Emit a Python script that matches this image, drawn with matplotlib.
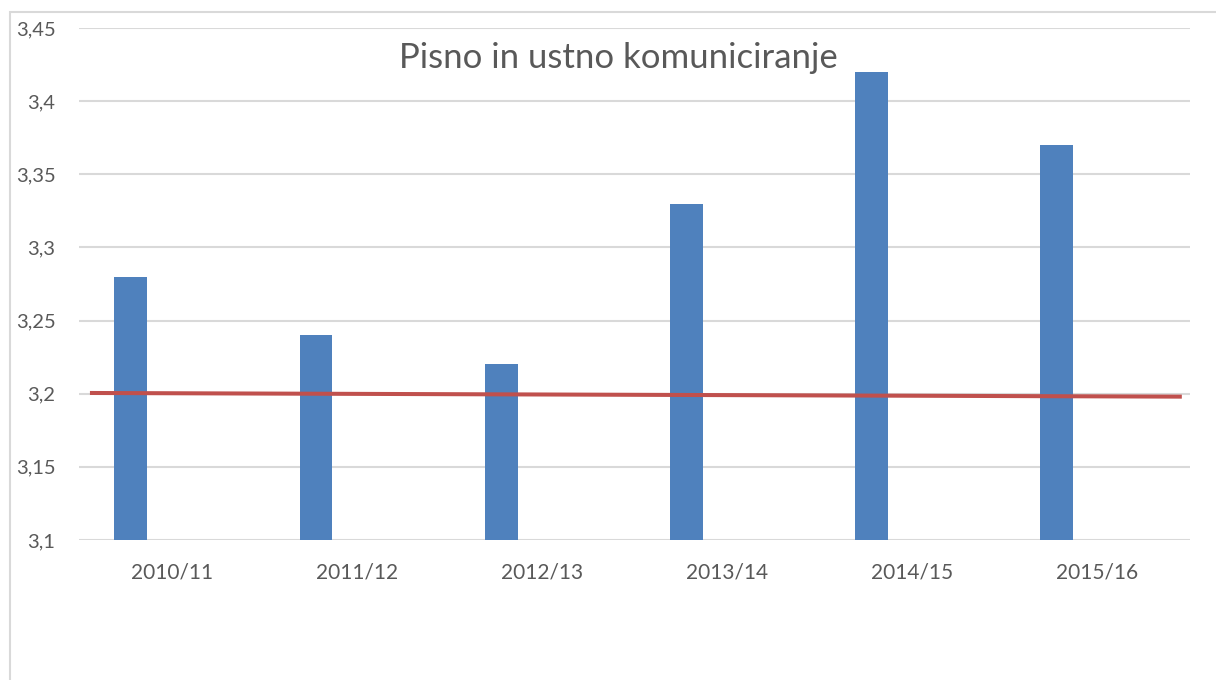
import matplotlib
matplotlib.use('Agg')
import matplotlib.pyplot as plt
from matplotlib.patches import Rectangle

# podatki
years = ['2010/11', '2011/12', '2012/13', '2013/14', '2014/15', '2015/16']
scores = [3.28, 3.24, 3.22, 3.33, 3.42, 3.37]
trend_x = [-0.43, 5.445]
trend_y = [3.2005, 3.198]
y_ticks = [3.1, 3.15, 3.2, 3.25, 3.3, 3.35, 3.4, 3.45]
y_labels = ['3,1', '3,15', '3,2', '3,25', '3,3', '3,35', '3,4', '3,45']

plt.rcParams['font.family'] = ['Lato', 'DejaVu Sans']

fig = plt.figure(figsize=(12.16, 6.8), dpi=100)
ax = fig.add_axes([79 / 1216, 1 - 540 / 680, (1190 - 79) / 1216, 512 / 680])

# okvir grafikona
fig.patches.append(Rectangle((10 / 1216, -0.1), 1.2, 1 - 12 / 680 + 0.1,
                             transform=fig.transFigure, fill=False,
                             edgecolor='#d9d9d9', lw=1.5))

x = list(range(len(years)))
ax.bar([i - 0.22 for i in x], scores, width=0.178, color='#4f81bd', zorder=2)
ax.plot(trend_x, trend_y, color='#c0504d', lw=2.9, zorder=3)

ax.set_xlim(-0.5, 5.5)
ax.set_ylim(3.1, 3.45)
ax.set_yticks(y_ticks)
ax.set_yticklabels(y_labels)
ax.set_xticks(x)
ax.set_xticklabels(years)
ax.tick_params(axis='both', length=0, colors='#595959')
ax.tick_params(axis='x', pad=16, labelsize=15)
ax.tick_params(axis='y', pad=17, labelsize=14.5)
ax.grid(axis='y', color='#d9d9d9', lw=1.5, zorder=0)
for s in ax.spines.values():
    s.set_visible(False)

fig.text(618 / 1216, 1 - 58 / 680, 'Pisno in ustno komuniciranje',
         ha='center', va='center', fontsize=25, color='#595959')

fig.savefig('out.png', dpi=100)
